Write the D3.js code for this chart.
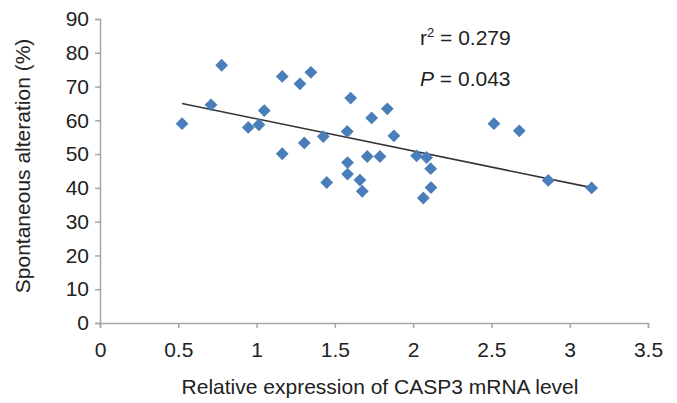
<!DOCTYPE html>
<html>
<head>
<meta charset="utf-8">
<script src="https://cdn.jsdelivr.net/npm/d3@7"></script>
<style>
  body { margin: 0; background: #fff; }
  text { font-family: "Liberation Sans", Arial, sans-serif; fill: #222; }
</style>
</head>
<body>
<div id="chart"></div>
<script>
// CASP3 expression vs spontaneous alteration
const expression = [0.524, 0.709, 0.777, 0.947, 1.015, 1.049, 1.164, 1.164, 1.277, 1.347,
  1.305, 1.426, 1.448, 1.601, 1.579, 1.581, 1.581, 1.66, 1.675, 1.707,
  1.735, 1.788, 1.835, 1.877, 2.022, 2.086, 2.112, 2.114, 2.065, 2.516,
  2.678, 2.863, 3.14];
const alteration = [59.0, 64.6, 76.3, 57.9, 58.7, 62.9, 73.0, 50.1, 70.8, 74.2,
  53.3, 55.2, 41.6, 66.6, 56.7, 47.5, 44.1, 42.3, 39.0, 49.3,
  60.7, 49.3, 63.4, 55.4, 49.5, 49.0, 45.7, 40.1, 37.0, 59.0,
  56.9, 42.2, 40.0];
const xTicks = [0, 0.5, 1, 1.5, 2, 2.5, 3, 3.5];
const yTicks = [0, 10, 20, 30, 40, 50, 60, 70, 80, 90];

const width = 677, height = 403;
const margin = { left: 100, right: 29, top: 19, bottom: 80 };
const fontSize = '21px';

const svg = d3.select('#chart').append('svg')
  .attr('width', width)
  .attr('height', height);

const x = d3.scaleLinear().domain([0, 3.5]).range([margin.left, width - margin.right]);
const y = d3.scaleLinear().domain([0, 90]).range([height - margin.bottom, margin.top]);

// axes
const axisColor = '#a6a6a6';
const gx = svg.append('g')
  .attr('transform', `translate(0,${y(0)})`)
  .call(d3.axisBottom(x).tickValues(xTicks).tickSize(5).tickPadding(14)
    .tickFormat(d => d));
const gy = svg.append('g')
  .attr('transform', `translate(${x(0)},0)`)
  .call(d3.axisLeft(y).tickValues(yTicks).tickSize(5).tickPadding(6));

[gx, gy].forEach(g => {
  g.select('.domain').attr('stroke', axisColor).attr('stroke-width', 1.5);
  g.selectAll('.tick line').attr('stroke', axisColor).attr('stroke-width', 1.5);
  g.selectAll('.tick text')
    .style('font-family', '"Liberation Sans", Arial, sans-serif')
    .style('font-size', fontSize)
    .attr('fill', '#222');
});

// linear fit
const mx = d3.mean(expression), my = d3.mean(alteration);
const sxy = d3.sum(expression, (v, i) => (v - mx) * (alteration[i] - my));
const sxx = d3.sum(expression, v => (v - mx) * (v - mx));
const slope = sxy / sxx;
const intercept = my - slope * mx;
const [xMin, xMax] = d3.extent(expression);

svg.append('line')
  .attr('x1', x(xMin)).attr('y1', y(intercept + slope * xMin))
  .attr('x2', x(xMax)).attr('y2', y(intercept + slope * xMax))
  .attr('stroke', '#333')
  .attr('stroke-width', 1.6);

// points
const diamond = d3.symbol().type(d3.symbolSquare).size(82);
svg.append('g')
  .selectAll('path')
  .data(expression.map((v, i) => ({ x: v, y: alteration[i] })))
  .join('path')
  .attr('d', diamond)
  .attr('transform', d => `translate(${x(d.x)},${y(d.y)}) rotate(45)`)
  .attr('fill', '#4a7ebb');

// stats
const stat = svg.append('g').style('font-size', fontSize);
const r2 = stat.append('text').attr('x', 420).attr('y', 45);
r2.append('tspan').text('r');
r2.append('tspan').text('2').attr('dy', -8).style('font-size', '13px');
r2.append('tspan').text(' = 0.279').attr('dy', 8);
const p = stat.append('text').attr('x', 420).attr('y', 86);
p.append('tspan').text('P').style('font-style', 'italic');
p.append('tspan').text(' = 0.043');

// axis titles
svg.append('text')
  .attr('x', 380).attr('y', 394)
  .attr('text-anchor', 'middle')
  .style('font-size', fontSize)
  .text('Relative expression of CASP3 mRNA level');

svg.append('text')
  .attr('transform', `translate(30,${y(46.5)}) rotate(-90)`)
  .attr('text-anchor', 'middle')
  .style('font-size', fontSize)
  .text('Spontaneous alteration (%)');
</script>
</body>
</html>
